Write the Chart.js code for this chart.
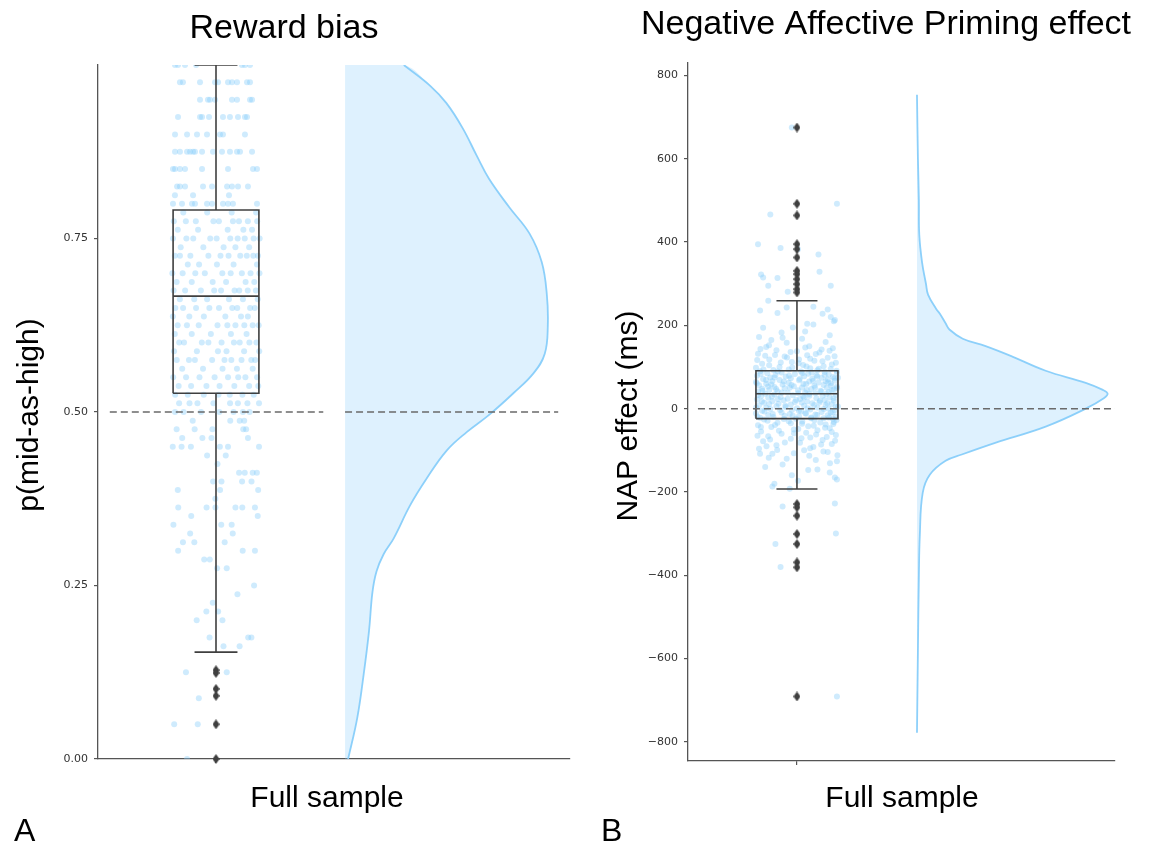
<!DOCTYPE html>
<html>
<head>
<meta charset="utf-8">
<title>Reward bias / NAP effect</title>
<script src="https://cdn.jsdelivr.net/npm/chart.js@4.4.0/dist/chart.umd.min.js"></script>
<style>
  body { margin: 0; background: #fff; }
  .panel { position: absolute; top: 0; height: 849px; }
  #panelA { left: 0; width: 590px; }
  #panelB { left: 590px; width: 562px; }
</style>
</head>
<body>
<div class="panel" id="panelA"><canvas id="rewardChart"></canvas></div>
<div class="panel" id="panelB"><canvas id="napChart"></canvas></div>
<script>
// ---- Reward bias: p(mid-as-high) ----
const rewardTicks = [0, 0.25, 0.5, 0.75];
const rewardRange = [0, 1];
const rewardChance = 0.5;
// whisker low, Q1, median, Q3, whisker high
const rewardBox = [0.154, 0.527, 0.667, 0.791, 1.0];
const rewardOutliers = [0.128, 0.124, 0.101, 0.091, 0.05, 0];
// each row: proportion, then horizontal jitter of the participants at that value
const rewardRows = [
  [1.000, [-0.382, -0.354, -0.289, -0.186, 0.242, 0.27, 0.317]],
  [0.975, [-0.336, -0.308, -0.149, -0.009, 0.019, 0.112, 0.149, 0.196, 0.289, 0.317]],
  [0.950, [-0.149, -0.075, -0.056, -0.009, 0.149, 0.196, 0.317, 0.336]],
  [0.925, [-0.354, -0.149, -0.13, -0.065, 0.065, 0.13, 0.205, 0.27, 0.289]],
  [0.900, [-0.382, -0.27, -0.177, -0.084, 0.037, 0.065, 0.27]],
  [0.875, [-0.382, -0.336, -0.27, -0.242, -0.214, -0.196, -0.13, -0.028, 0.056, 0.13, 0.196, 0.224, 0.336]],
  [0.850, [-0.401, -0.382, -0.336, -0.289, -0.13, 0.112, 0.345, 0.382]],
  [0.825, [-0.363, -0.336, -0.289, -0.121, -0.037, 0.103, 0.149, 0.205, 0.298]],
  [0.8125, [-0.383, -0.214, 0.121]],
  [0.800, [-0.401, -0.317, -0.224, -0.196, -0.084, -0.037, 0.065, 0.112, 0.158, 0.382]],
  [0.7875, [-0.305, -0.082, 0.146, 0.374]],
  [0.775, [-0.393, -0.281, -0.188, -0.024, 0.027, 0.158, 0.214, 0.297, 0.384]],
  [0.7625, [-0.356, -0.167, 0.109, 0.255, 0.336]],
  [0.750, [-0.401, -0.276, -0.212, -0.054, 0.006, 0.133, 0.202, 0.268, 0.351, 0.407]],
  [0.7375, [-0.329, -0.118, 0.071, 0.181, 0.309]],
  [0.725, [-0.384, -0.336, -0.239, -0.071, 0.042, 0.117, 0.226, 0.287, 0.348, 0.391]],
  [0.7125, [-0.263, -0.158, 0.009, 0.164, 0.382]],
  [0.700, [-0.407, -0.311, -0.193, -0.104, 0.059, 0.137, 0.241, 0.322, 0.405]],
  [0.6875, [-0.367, -0.226, -0.031, 0.094, 0.276, 0.357]],
  [0.675, [-0.395, -0.288, -0.141, -0.017, 0.047, 0.173, 0.217, 0.296, 0.372]],
  [0.6625, [-0.337, -0.203, -0.083, 0.121, 0.251, 0.389]],
  [0.650, [-0.379, -0.307, -0.186, -0.062, 0.028, 0.152, 0.198, 0.318, 0.361]],
  [0.6375, [-0.402, -0.249, -0.113, 0.087, 0.233, 0.297]],
  [0.625, [-0.357, -0.271, -0.161, 0.014, 0.106, 0.181, 0.264, 0.342, 0.398]],
  [0.6125, [-0.384, -0.226, -0.048, 0.139, 0.285]],
  [0.600, [-0.343, -0.298, -0.132, -0.071, 0.052, 0.167, 0.221, 0.311, 0.377]],
  [0.5875, [-0.391, -0.178, 0.018, 0.098, 0.262, 0.403]],
  [0.575, [-0.366, -0.252, -0.197, -0.036, 0.079, 0.143, 0.238, 0.329, 0.365]],
  [0.5625, [-0.315, -0.121, 0.061, 0.195, 0.342]],
  [0.550, [-0.399, -0.279, -0.154, -0.013, 0.112, 0.207, 0.274, 0.383]],
  [0.5375, [-0.348, -0.232, -0.089, 0.033, 0.171, 0.309, 0.394]],
  [0.525, [-0.381, -0.263, -0.114, 0.023, 0.128, 0.246, 0.352]],
  [0.5125, [-0.344, -0.247, -0.173, -0.024, 0.131, 0.204, 0.293, 0.401]],
  [0.500, [-0.382, -0.302, -0.139, 0.031, 0.164, 0.251, 0.313]],
  [0.4875, [-0.217, 0.133, 0.221, 0.263]],
  [0.475, [-0.367, -0.199, -0.033, 0.254, 0.281]],
  [0.4625, [-0.315, -0.127, -0.042, 0.298]],
  [0.450, [-0.403, -0.321, -0.234, 0.036, 0.112, 0.401]],
  [0.4375, [-0.083, 0.091]],
  [0.425, [0.014]],
  [0.4125, [0.215, 0.268, 0.342, 0.381]],
  [0.400, [-0.027, 0.051, 0.243, 0.331]],
  [0.3875, [-0.356, 0.038, 0.393]],
  [0.375, [-0.006]],
  [0.3625, [-0.352, -0.088, -0.005, 0.181, 0.245, 0.363]],
  [0.350, [-0.231, 0.389]],
  [0.3375, [-0.397, 0.049, 0.146]],
  [0.325, [-0.241, 0.156]],
  [0.3125, [-0.308, -0.202, 0.081]],
  [0.300, [-0.353, 0.249, 0.363]],
  [0.2875, [-0.11, -0.058]],
  [0.275, [0.01, 0.1]],
  [0.250, [0.355]],
  [0.2375, [0.2]],
  [0.225, [-0.03]],
  [0.2125, [-0.09, 0.02]],
  [0.200, [-0.18, 0.06]],
  [0.175, [-0.06, 0.3, 0.33]],
  [0.1625, [0.07, 0.22]],
  [0.125, [-0.28, 0.1]],
  [0.0875, [-0.16]],
  [0.050, [-0.39, -0.17]],
  [0.000, [-0.27]]
];
// kernel density, relative to its peak
const rewardDensityAt = [1.0, 0.97, 0.945, 0.909, 0.869, 0.836, 0.795, 0.757, 0.716, 0.67, 0.624, 0.584, 0.556,
  0.527, 0.497, 0.471, 0.444, 0.403, 0.365, 0.318, 0.295, 0.27, 0.24, 0.184, 0.118, 0.059, 0.0];
const rewardDensity = [0.29, 0.42, 0.5, 0.58, 0.65, 0.71, 0.81, 0.91, 0.97, 0.995, 1.0, 0.985, 0.93,
  0.83, 0.715, 0.6, 0.5, 0.4, 0.32, 0.24, 0.19, 0.155, 0.135, 0.118, 0.09, 0.06, 0.015];

// ---- Negative affective priming effect (ms) ----
const napTicks = [-800, -600, -400, -200, 0, 200, 400, 600, 800];
const napRange = [-846, 830];
const napZero = 0;
const napBox = [-193, -24, 36, 91, 259];
const napOutliers = [675, 492, 464, 395, 383, 363, 331, 323, 311, 299, 287, 279,
  -229, -237, -257, -301, -325, -369, -381, -691];
// [effect, horizontal jitter]
const napPoints = [
  [675, -0.05], [492, 0.39], [466, -0.26], [395, -0.38], [386, -0.16], [383, 0.01], [370, 0.21],
  [329, 0.22], [322, -0.35], [315, -0.33], [314, -0.19], [295, -0.28], [295, 0.33], [281, -0.09],
  [259, -0.28], [245, 0.16], [243, -0.1], [238, 0.3], [236, -0.36], [230, -0.19], [228, 0.25], [220, 0.33], [213, 0.37], [210, 0.36],
  [204, 0.1], [202, 0.16], [195, -0.04], [194, -0.33], [185, 0.08], [183, -0.15], [176, 0.32], [172, -0.37], [170, -0.14], [168, 0.05],
  [165, -0.25], [160, 0.28], [158, -0.1], [150, 0.12], [148, -0.3], [145, 0.35], [142, 0.24], [140, -0.2], [138, 0.0], [135, 0.22],
  [132, -0.38], [128, 0.1], [127, -0.31], [125, -0.12], [122, 0.3], [118, -0.27], [118, 0.02], [115, 0.17], [112, -0.05], [110, 0.38],
  [108, -0.34], [105, 0.06], [102, 0.26], [100, -0.17], [98, -0.4], [97, 0.13], [95, 0.33], [94, -0.08], [93, -0.23], [92, 0.2],
  [152, -0.273], [147, 0.081], [143, -0.356], [139, 0.318], [136, -0.062], [131, 0.184], [129, -0.214], [126, 0.367], [123, -0.097], [120, 0.129],
  [117, -0.388], [114, 0.249], [111, -0.158], [109, 0.016], [106, 0.341], [104, -0.271], [101, 0.093], [99, -0.046], [96, 0.212], [94, -0.327],
  [90, -0.36], [89, 0.04], [88, 0.27], [87, -0.15], [86, 0.39], [85, -0.29], [84, 0.11], [83, -0.02], [82, 0.31], [81, -0.21],
  [80, 0.19], [79, -0.39], [78, 0.07], [77, -0.11], [76, 0.35], [75, -0.26], [74, 0.24], [73, -0.06], [72, 0.15], [71, -0.33],
  [70, 0.3], [69, -0.17], [68, 0.02], [67, 0.37], [66, -0.24], [65, 0.12], [64, -0.4], [63, 0.21], [62, -0.08], [61, 0.33],
  [60, -0.3], [59, 0.09], [58, -0.14], [57, 0.26], [56, -0.37], [55, 0.17], [54, -0.03], [53, 0.39], [52, -0.22], [51, 0.05],
  [50, 0.29], [49, -0.12], [48, -0.34], [47, 0.14], [46, 0.36], [45, -0.27], [44, 0.01], [43, 0.23], [42, -0.19], [41, -0.38],
  [40, 0.31], [39, 0.08], [38, -0.09], [37, 0.18], [36, -0.31], [74, 0.4], [66, 0.28], [58, -0.25], [50, -0.07], [44, 0.34],
  [91, 0.387], [89, -0.188], [87, 0.143], [85, 0.052], [83, -0.354], [81, 0.271], [79, -0.077], [77, 0.198], [75, -0.219], [73, 0.366],
  [71, 0.027], [69, -0.301], [67, 0.157], [65, -0.128], [63, 0.306], [61, -0.392], [59, 0.063], [57, -0.053], [55, 0.334], [53, -0.281],
  [51, 0.177], [49, 0.391], [47, -0.203], [45, 0.096], [43, -0.336], [41, 0.239], [39, -0.148], [37, 0.012], [35, 0.286], [33, -0.377],
  [35, 0.12], [34, -0.22], [33, 0.38], [32, -0.04], [31, 0.25], [30, -0.35], [29, 0.06], [28, -0.16], [27, 0.32], [26, -0.28],
  [25, 0.19], [24, -0.09], [23, 0.03], [22, -0.39], [21, 0.27], [20, -0.13], [19, 0.36], [18, -0.24], [17, 0.1], [16, -0.02],
  [15, 0.22], [14, -0.32], [13, 0.15], [12, -0.18], [11, 0.34], [10, -0.06], [9, 0.28], [8, -0.37], [7, 0.07], [6, -0.2],
  [5, 0.4], [4, -0.11], [3, 0.2], [2, -0.3], [1, 0.0], [0, 0.31], [-1, -0.26], [-2, 0.13], [-3, -0.05], [-4, 0.37],
  [-5, -0.34], [-6, 0.04], [-8, 0.24], [-9, -0.15], [-10, 0.33], [-11, -0.4], [-12, 0.09], [-13, -0.07], [-14, 0.18], [-15, -0.28],
  [-16, 0.3], [-17, -0.12], [-18, 0.02], [-19, 0.38], [-20, -0.23], [-21, 0.14], [-22, -0.36], [-23, 0.26], [-24, -0.01], [-24, 0.35],
  [31, 0.121], [29, -0.244], [27, 0.071], [25, 0.357], [23, -0.186], [21, -0.009], [19, 0.224], [17, -0.342], [15, 0.046], [13, 0.296],
  [11, -0.271], [9, 0.168], [7, -0.113], [5, 0.378], [3, -0.398], [1, 0.104], [-1, 0.262], [-3, -0.164], [-5, 0.019], [-7, -0.317],
  [-9, 0.349], [-11, 0.081], [-13, -0.236], [-15, 0.197], [-17, -0.041], [-19, -0.386], [-21, 0.311], [-23, 0.137], [-25, -0.128], [-27, 0.386],
  [-26, -0.32], [-28, 0.17], [-30, -0.08], [-32, 0.36], [-34, -0.19], [-36, 0.05], [-38, 0.28], [-40, -0.38], [-42, 0.11], [-44, -0.25],
  [-29, -0.287], [-31, 0.052], [-33, 0.228], [-35, -0.06], [-37, 0.355], [-39, -0.214], [-41, 0.164], [-44, -0.352], [-46, 0.274], [-49, 0.013],
  [-47, 0.32], [-50, -0.03], [-52, 0.2], [-55, -0.35], [-58, 0.09], [-60, -0.15], [-63, 0.38], [-66, -0.28], [-69, 0.13], [-72, -0.06],
  [-53, -0.176], [-56, 0.339], [-59, -0.029], [-62, 0.187], [-65, -0.385], [-68, 0.291], [-71, 0.044], [-74, -0.262], [-77, 0.372], [-81, -0.118],
  [-75, 0.25], [-78, -0.33], [-82, 0.03], [-85, 0.34], [-88, -0.2], [-92, 0.16], [-96, -0.37], [-100, 0.07], [-104, 0.3], [-108, -0.36],
  [-86, 0.236], [-90, -0.297], [-95, 0.129], [-99, -0.193], [-103, 0.258], [-107, -0.03], [-112, 0.395], [-118, -0.275], [-123, 0.184], [-131, 0.322],
  [-108, -0.24], [-113, 0.12], [-120, -0.1], [-126, 0.39], [-134, -0.14], [-140, -0.31], [-147, 0.11], [-146, 0.2], [-153, 0.32], [-160, -0.05],
  [-165, 0.37], [-170, 0.39], [-173, 0.01], [-180, -0.22], [-187, -0.24], [-192, -0.07],
  [-228, 0.37], [-235, -0.14], [-300, 0.38], [-325, -0.21], [-380, -0.16], [-691, 0.39]
];
const napDensityAt = [754, 600, 500, 418, 350, 300, 274, 240, 228, 205, 190, 168, 150, 125, 91, 62, 45, 36, 25,
  0, -43, -82, -110, -125, -158, -202, -302, -400, -578, -778];
const napDensity = [0, 0.005, 0.01, 0.012, 0.027, 0.047, 0.058, 0.1, 0.12, 0.15, 0.17, 0.24, 0.36, 0.5, 0.675, 0.885, 0.975, 1, 0.98,
  0.885, 0.675, 0.41, 0.235, 0.15, 0.068, 0.03, 0.015, 0.01, 0.005, 0];

const BOX_GREY = '#3f3f3f';
const SKY = '135, 206, 250';

// thin diamond marker for the box-plot fliers
function diamondMarker(w, h, color) {
  const c = document.createElement('canvas');
  c.width = w;
  c.height = h;
  const g = c.getContext('2d');
  g.fillStyle = color;
  g.beginPath();
  g.moveTo(w / 2, 0);
  g.lineTo(w, h / 2);
  g.lineTo(w / 2, h);
  g.lineTo(0, h / 2);
  g.closePath();
  g.fill();
  return c;
}
const flierMarker = diamondMarker(7, 10, BOX_GREY);

function segment(points, order, extra) {
  return Object.assign({
    data: points.map(([x, y]) => ({ x, y })),
    showLine: true,
    pointRadius: 0,
    borderColor: BOX_GREY,
    borderWidth: 1.6,
    tension: 0,
    order
  }, extra || {});
}

// raincloud: jittered points + box on the left, half violin on the right
function raincloud(p) {
  const [lo, q1, med, q3, hi] = p.box;
  const hw = 0.4, cap = 0.2;
  const curve = p.densityAt.map((v, i) => ({ x: p.violinBase + p.density[i] * p.violinWidth, y: v }));
  const last = p.densityAt.length - 1;
  const shape = [{ x: p.violinBase, y: p.densityAt[0] }, ...curve, { x: p.violinBase, y: p.densityAt[last] }];
  const dashed = { borderColor: '#6a6a6a', borderDash: [7, 4], borderWidth: 1.5 };
  return [
    segment([[p.refLeft[0], p.ref], [p.refLeft[1], p.ref]], 0, dashed),
    segment([[p.refRight[0], p.ref], [p.refRight[1], p.ref]], 0, dashed),
    {
      data: p.outliers.map(v => ({ x: 0, y: v })),
      pointStyle: flierMarker, pointRadius: 5,
      clip: false, order: 1
    },
    segment([[-hw, q1], [hw, q1], [hw, q3], [-hw, q3], [-hw, q1]], 2),
    segment([[-hw, med], [hw, med]], 2),
    segment([[0, q3], [0, hi]], 2),
    segment([[0, q1], [0, lo]], 2),
    segment([[-cap, hi], [cap, hi]], 2),
    segment([[-cap, lo], [cap, lo]], 2),
    {
      data: p.points,
      pointRadius: 3, backgroundColor: `rgba(${SKY}, 0.4)`, borderWidth: 0, order: 3
    },
    {
      data: curve, showLine: true, pointRadius: 0,
      borderColor: `rgba(${SKY}, 0.95)`, borderWidth: 1.8, tension: 0.4, order: 4
    },
    {
      data: shape, showLine: true, pointRadius: 0, borderWidth: 0,
      backgroundColor: `rgba(${SKY}, 0.28)`, fill: 'shape', tension: 0.4, order: 5
    }
  ];
}

function textLayer(items) {
  return {
    id: 'textLayer',
    afterDraw(chart) {
      const ctx = chart.ctx;
      items.forEach(t => {
        ctx.save();
        ctx.font = t.font;
        ctx.fillStyle = '#000';
        ctx.textAlign = t.align || 'center';
        ctx.textBaseline = 'alphabetic';
        ctx.translate(t.x, t.y);
        if (t.vertical) ctx.rotate(-Math.PI / 2);
        ctx.fillText(t.text, 0, 0);
        ctx.restore();
      });
    }
  };
}

const axisGrid = { drawOnChartArea: false, drawTicks: true, tickLength: 4, color: '#555', lineWidth: 1.2 };
const axisBorder = { display: true, color: '#555', width: 1.3 };
const tickFont = { family: 'DejaVu Sans', size: 11 };

function drawPanel(canvasId, p) {
  return new Chart(document.getElementById(canvasId), {
    type: 'scatter',
    data: { datasets: raincloud(p) },
    options: {
      responsive: true,
      maintainAspectRatio: false,
      animation: false,
      devicePixelRatio: 1,
      events: [],
      layout: { padding: p.padding },
      plugins: { legend: { display: false }, tooltip: { enabled: false } },
      scales: {
        x: {
          type: 'linear', min: p.xRange[0], max: p.xRange[1],
          afterBuildTicks: s => { s.ticks = [{ value: 0 }]; },
          afterFit: s => { s.height = 10; },
          ticks: { callback: () => '' },
          grid: axisGrid, border: axisBorder
        },
        y: {
          type: 'linear', min: p.yRange[0], max: p.yRange[1],
          afterBuildTicks: s => { s.ticks = p.yTicks.map(v => ({ value: v })); },
          afterFit: s => { s.width = 40; },
          ticks: { callback: p.fmt, font: tickFont, color: '#333', padding: 6 },
          grid: axisGrid, border: axisBorder
        }
      }
    },
    plugins: [textLayer(p.text)]
  });
}

const labelFont = '30px "Liberation Sans", Arial, sans-serif';
const titleFont = '34px "Liberation Sans", Arial, sans-serif';

drawPanel('rewardChart', {
  box: rewardBox,
  outliers: rewardOutliers,
  points: rewardRows.flatMap(([v, offs]) => offs.map(o => ({ x: o, y: v }))),
  densityAt: rewardDensityAt,
  density: rewardDensity,
  violinBase: 1.203,
  violinWidth: 1.89,
  ref: rewardChance,
  refLeft: [-0.99, 1.0],
  refRight: [1.203, 3.19],
  xRange: [-1.1, 3.3],
  yRange: rewardRange,
  yTicks: rewardTicks,
  fmt: v => v.toFixed(2),
  padding: { top: 65, left: 58, right: 20, bottom: 80 },
  text: [
    { text: 'Reward bias', x: 284, y: 38, font: titleFont },
    { text: 'p(mid-as-high)', x: 38, y: 415, font: labelFont, vertical: true },
    { text: 'Full sample', x: 327, y: 807, font: labelFont },
    { text: 'A', x: 14, y: 841, font: '32px "Liberation Sans", Arial, sans-serif', align: 'left' }
  ]
});

drawPanel('napChart', {
  box: napBox,
  outliers: napOutliers,
  points: napPoints.map(([v, o]) => ({ x: o, y: v })),
  densityAt: napDensityAt,
  density: napDensity,
  violinBase: 1.171,
  violinWidth: 1.86,
  ref: napZero,
  refLeft: [-0.966, 0.966],
  refRight: [1.171, 3.12],
  xRange: [-1.063, 3.103],
  yRange: napRange,
  yTicks: napTicks,
  fmt: v => (v < 0 ? '\u2212' + Math.abs(v) : String(v)),
  padding: { top: 63, left: 58, right: 37, bottom: 78 },
  text: [
    { text: 'Negative Affective Priming effect', x: 296, y: 34, font: titleFont },
    { text: 'NAP effect (ms)', x: 47, y: 416, font: labelFont, vertical: true },
    { text: 'Full sample', x: 312, y: 807, font: labelFont },
    { text: 'B', x: 11, y: 841, font: '32px "Liberation Sans", Arial, sans-serif', align: 'left' }
  ]
});
</script>
</body>
</html>
